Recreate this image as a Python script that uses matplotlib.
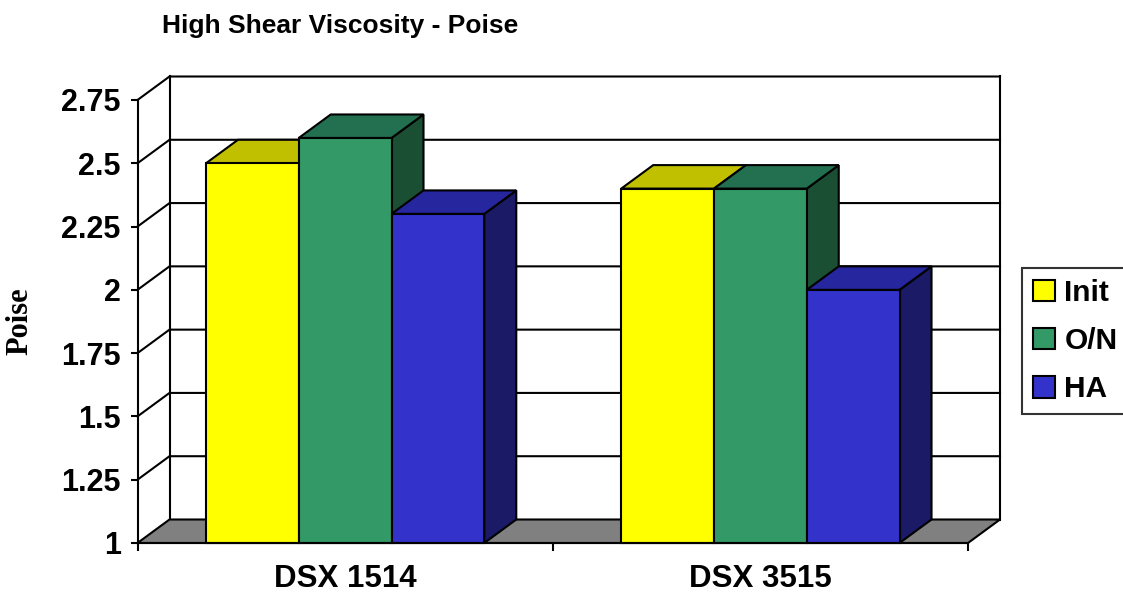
import matplotlib
matplotlib.use("Agg")
import matplotlib.pyplot as plt
from matplotlib.patches import Polygon, Patch
import numpy as np

# ---- data ----
categories = ["DSX 1514", "DSX 3515"]
series_names = ["Init", "O/N", "HA"]
init_vals = [2.5, 2.4]
on_vals = [2.6, 2.4]
ha_vals = [2.3, 2.0]
y_ticks = [1, 1.25, 1.5, 1.75, 2, 2.25, 2.5, 2.75]
y_tick_labels = ["1", "1.25", "1.5", "1.75", "2", "2.25", "2.5", "2.75"]
title = "High Shear Viscosity - Poise"
y_label = "Poise"

series_vals = [init_vals, on_vals, ha_vals]
front_cols = ["#FFFF00", "#339966", "#3333CC"]
top_cols = ["#C0C000", "#237050", "#26269E"]
side_cols = ["#808000", "#1A4F34", "#1A1A66"]

plt.rcParams['font.family'] = ['Liberation Sans', 'DejaVu Sans']

W, H = 1123, 592
fig = plt.figure(figsize=(W / 100, H / 100), dpi=100)
left_px, right_px, top_px, bot_px = 137.5, 968, 100, 543
ax = fig.add_axes([left_px / W, 1 - bot_px / H, (right_px - left_px) / W, (bot_px - top_px) / H])
ymin, ymax = 1.0, 2.75
ax.set_xlim(0, len(categories))
ax.set_ylim(ymin, ymax)

px_per_x = (right_px - left_px) / len(categories)
px_per_y = (bot_px - top_px) / (ymax - ymin)
DX = 32 / px_per_x
DY = 23.5 / px_per_y
LW = 1.5
ncat = len(categories)

# walls / gridlines
for v in y_ticks[1:]:
    ax.plot([0, DX, ncat + DX], [v, v + DY, v + DY], color="black", lw=LW, clip_on=False, zorder=1,
            solid_capstyle="projecting")
ax.plot([DX, DX], [ymin + DY, ymax + DY], color="black", lw=LW, clip_on=False, zorder=1)
ax.plot([ncat + DX, ncat + DX], [ymin + DY, ymax + DY], color="black", lw=LW, clip_on=False, zorder=1)

# floor
floor = Polygon([[0, ymin], [ncat, ymin], [ncat + DX, ymin + DY], [DX, ymin + DY]], closed=True,
                facecolor="#808080", edgecolor="black", lw=LW, clip_on=False, zorder=2, joinstyle="miter")
ax.add_patch(floor)

# bars
bw = 0.2234
gap = (1 - 3 * bw) / 2
z = 3
for i in range(ncat):
    for j, vals in enumerate(series_vals):
        v = vals[i]
        x0 = i + gap + j * bw
        side = Polygon([[x0 + bw, ymin], [x0 + bw + DX, ymin + DY], [x0 + bw + DX, v + DY], [x0 + bw, v]],
                       closed=True, facecolor=side_cols[j], edgecolor="black", lw=LW, clip_on=False, zorder=z,
                       joinstyle="miter")
        top = Polygon([[x0, v], [x0 + bw, v], [x0 + bw + DX, v + DY], [x0 + DX, v + DY]],
                      closed=True, facecolor=top_cols[j], edgecolor="black", lw=LW, clip_on=False, zorder=z,
                      joinstyle="miter")
        ax.add_patch(side)
        ax.add_patch(top)
        ax.bar(x0, v - ymin, width=bw, bottom=ymin, align="edge", color=front_cols[j], edgecolor="black",
               lw=LW, zorder=z + 0.5, clip_on=False)
        z += 1

# axes styling
for s in ["top", "right"]:
    ax.spines[s].set_visible(False)
for s in ["left", "bottom"]:
    ax.spines[s].set_linewidth(LW)
    ax.spines[s].set_zorder(50)
ax.set_facecolor("none")
ax.set_yticks(y_ticks)
ax.set_yticklabels(y_tick_labels, fontsize=22, fontweight="bold")
ax.tick_params(axis="y", direction="out", length=5, width=LW, pad=7)
ax.set_xticks(np.arange(ncat + 1))
ax.set_xticklabels([""] * (ncat + 1))
ax.tick_params(axis="x", which="major", direction="out", length=6, width=LW)
ax.set_xticks(np.arange(ncat) + 0.5, minor=True)
ax.set_xticklabels(categories, minor=True, fontsize=22.5, fontweight="bold")
ax.tick_params(axis="x", which="minor", length=0, pad=15)

ax.set_ylabel(y_label, fontsize=22, fontweight="bold", family=["Liberation Serif", "DejaVu Serif"], labelpad=19)

fig.text(162 / W, 1 - 26 / H, title, fontsize=19, fontweight="bold", ha="left", va="center")

handles = [Patch(facecolor=c, edgecolor="black", lw=LW) for c in front_cols]
leg = fig.legend(handles, series_names, loc="upper left", bbox_to_anchor=(1022 / W, 1 - 268 / H),
                 prop={"size": 21.5, "weight": "bold"}, frameon=True, fancybox=False,
                 handlelength=0.73, handleheight=0.73, handletextpad=0.33, labelspacing=0.68,
                 borderpad=0.36, borderaxespad=0)
leg.get_frame().set_edgecolor("black")
leg.get_frame().set_linewidth(LW)

fig.savefig("out.png", dpi=100)
